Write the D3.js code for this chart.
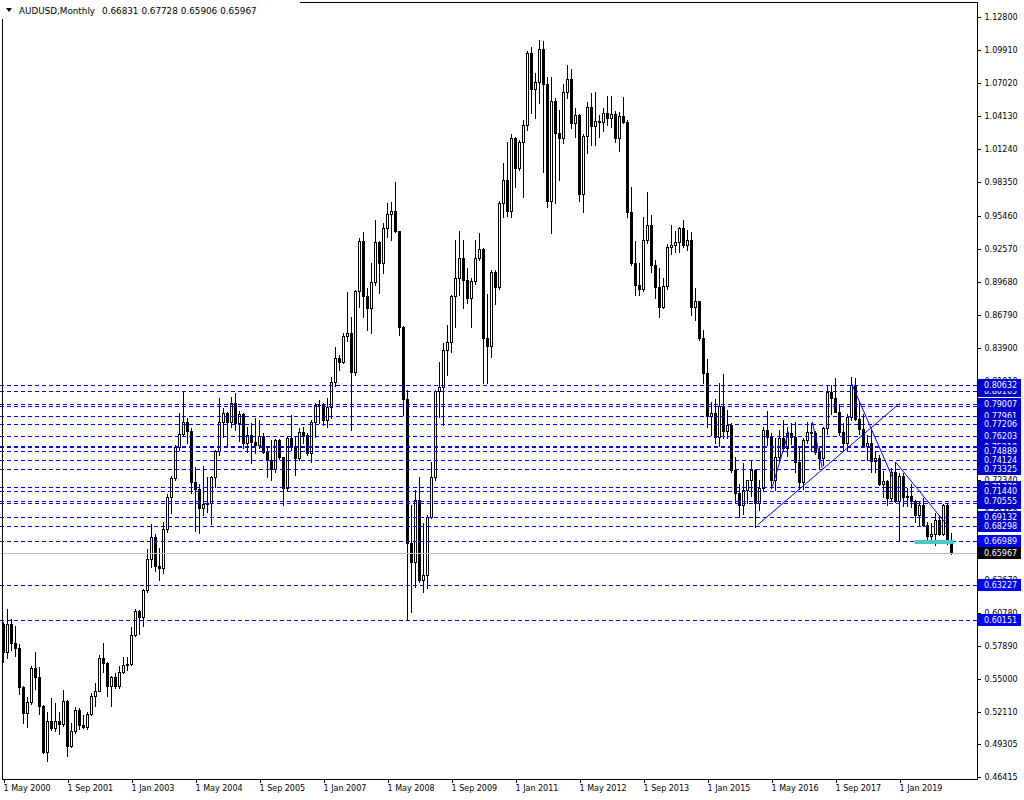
<!DOCTYPE html>
<html><head><meta charset="utf-8">
<script src="https://cdn.jsdelivr.net/npm/d3@7"></script>
<style>
body{margin:0;background:#fff;}
svg{display:block;}
text{font-family:"DejaVu Sans",Verdana,sans-serif;font-size:8px;}
</style></head><body>
<svg id="c" width="1024" height="800"></svg>
<script>
// ---------------- DATA ----------------
const firstMonth = "2000-05-01";
const lastMonth = "2020-02-01";
const openP = [0.5980,0.5735,0.5980,0.5810,0.5771,0.5430,0.5203,0.5294,0.5596,0.5512,0.5264,0.4857,0.5130,0.5072,0.5130,0.5107,0.5305,0.4915,0.5040,0.5226,0.5098,0.5080,0.5192,0.5349,0.5395,0.5678,0.5640,0.5439,0.5512,0.5439,0.5558,0.5617,0.5625,0.5882,0.6091,0.6042,0.6275,0.6543,0.6740,0.6485,0.6470,0.6805,0.7084,0.7250,0.7521,0.7639,0.7740,0.7666,0.7221,0.7154,0.6994,0.7023,0.7038,0.7264,0.7489,0.7740,0.7818,0.7740,0.7906,0.7731,0.7812,0.7556,0.7629,0.7570,0.7545,0.7623,0.7483,0.7410,0.7332,0.7585,0.7434,0.7163,0.7600,0.7527,0.7425,0.7658,0.7629,0.7469,0.7745,0.7891,0.7895,0.7760,0.7876,0.8089,0.8298,0.8270,0.8494,0.8520,0.8182,0.8887,0.9326,0.8846,0.8735,0.8965,0.9318,0.9134,0.9434,0.9556,0.9585,0.9411,0.8569,0.7943,0.6682,0.6522,0.7061,0.6362,0.6406,0.6915,0.7259,0.8016,0.8051,0.8371,0.8438,0.8843,0.8997,0.9172,0.8983,0.8823,0.8974,0.9172,0.9251,0.8473,0.8406,0.9050,0.8925,0.9652,0.9856,0.9585,1.0220,0.9964,1.0191,1.0337,1.0968,1.0651,1.0715,1.1000,1.0692,0.9676,1.0546,1.0270,1.0226,1.0628,1.0736,1.0357,1.0420,0.9731,1.0240,1.0491,1.0328,1.0372,1.0366,1.0439,1.0395,1.0433,1.0220,1.0418,1.0366,0.9574,0.9134,0.8939,0.8901,0.9332,0.9463,0.9114,0.8924,0.8750,0.8930,0.9268,0.9288,0.9314,0.9434,0.9288,0.9332,0.8750,0.8799,0.8473,0.8173,0.7795,0.7818,0.7614,0.7880,0.7660,0.7712,0.7323,0.7119,0.7017,0.7148,0.7236,0.7323,0.7032,0.7163,0.7672,0.7614,0.7236,0.7440,0.7600,0.7515,0.7650,0.7610,0.7396,0.7221,0.7585,0.7658,0.7643,0.7483,0.7430,0.7687,0.8007,0.7949,0.7833,0.7658,0.7556,0.7790,0.8065,0.7765,0.7680,0.7530,0.7560,0.7400,0.7430,0.7200,0.7230,0.7080,0.7310,0.7050,0.7270,0.7090,0.7100,0.7050,0.6930,0.7020,0.6840,0.6750,0.6760,0.6890,0.6765,0.7020,0.66831];
const highP = [0.5995,0.6106,0.6018,0.5960,0.5803,0.5440,0.5343,0.5611,0.5733,0.5602,0.5270,0.5206,0.5331,0.5290,0.5209,0.5401,0.5310,0.5110,0.5255,0.5241,0.5183,0.5209,0.5372,0.5465,0.5707,0.5814,0.5645,0.5520,0.5552,0.5611,0.5692,0.5692,0.5954,0.6106,0.6100,0.6280,0.6630,0.6849,0.6760,0.6639,0.6871,0.7113,0.7271,0.7541,0.7818,0.8016,0.7775,0.7690,0.7347,0.7200,0.7358,0.7264,0.7271,0.7500,0.7949,0.7862,0.7832,0.7963,0.7993,0.7840,0.7818,0.7700,0.7731,0.7774,0.7760,0.7643,0.7512,0.7585,0.7591,0.7591,0.7440,0.7614,0.7803,0.7614,0.7687,0.7696,0.7643,0.7760,0.7905,0.7934,0.7905,0.7949,0.8138,0.8400,0.8328,0.8517,0.8881,0.8662,0.8895,0.9347,0.9405,0.8910,0.9128,0.9507,0.9320,0.9478,0.9652,0.9667,0.9842,0.9415,0.8580,0.8022,0.7017,0.7148,0.7259,0.6857,0.6930,0.7396,0.8022,0.8269,0.8435,0.8590,0.8852,0.9332,0.9411,0.9332,0.9085,0.9000,0.9332,0.9396,0.9265,0.8860,0.9070,0.9070,0.9670,1.0002,1.0191,1.0258,1.0229,1.0205,1.0380,1.0986,1.1021,1.0788,1.1079,1.1070,1.0759,1.0759,1.0570,1.0468,1.0695,1.0861,1.0823,1.0482,1.0430,1.0258,1.0540,1.0619,1.0625,1.0424,1.0482,1.0593,1.0593,1.0462,1.0453,1.0578,1.0380,0.9792,0.9323,0.9128,0.9536,0.9754,0.9550,0.9157,0.9085,0.8997,0.9294,0.9463,0.9411,0.9449,0.9507,0.9419,0.9405,0.8910,0.8800,0.8546,0.8296,0.7913,0.7939,0.8080,0.8163,0.7850,0.7730,0.7439,0.7200,0.7380,0.7240,0.7410,0.7330,0.7236,0.7700,0.7835,0.7650,0.7600,0.7672,0.7760,0.7700,0.7730,0.7740,0.7525,0.7600,0.7745,0.7731,0.7660,0.7515,0.7700,0.8066,0.8066,0.8125,0.7900,0.7730,0.7810,0.8135,0.8130,0.7917,0.7810,0.7630,0.7680,0.7480,0.7450,0.7315,0.7240,0.7340,0.7395,0.7295,0.7295,0.7170,0.7205,0.7065,0.7050,0.7080,0.6872,0.6860,0.6945,0.6930,0.7030,0.7030,0.67728];
const lowP = [0.5649,0.5683,0.5751,0.5700,0.5364,0.5116,0.5081,0.5280,0.5413,0.5192,0.4848,0.4784,0.5052,0.5046,0.5017,0.5090,0.4827,0.4900,0.5028,0.5058,0.5066,0.5060,0.5180,0.5264,0.5390,0.5561,0.5349,0.5260,0.5416,0.5420,0.5550,0.5576,0.5620,0.5870,0.5890,0.5960,0.6260,0.6480,0.6443,0.6362,0.6420,0.6780,0.6945,0.7240,0.7498,0.7620,0.7560,0.7125,0.6793,0.6775,0.6930,0.6958,0.6851,0.7177,0.7454,0.7610,0.7526,0.7700,0.7670,0.7580,0.7512,0.7483,0.7380,0.7469,0.7512,0.7469,0.7265,0.7236,0.7308,0.7416,0.7017,0.7148,0.7500,0.7279,0.7410,0.7560,0.7454,0.7396,0.7614,0.7731,0.7716,0.7701,0.7780,0.8060,0.8200,0.8261,0.8450,0.7672,0.8153,0.8750,0.8662,0.8546,0.8517,0.8940,0.8866,0.9041,0.9361,0.9332,0.9400,0.8502,0.7803,0.6013,0.6086,0.6304,0.6347,0.6260,0.6289,0.6900,0.7236,0.7789,0.7716,0.8153,0.8350,0.8575,0.8852,0.8735,0.8779,0.8575,0.8950,0.9160,0.8080,0.8080,0.8313,0.8770,0.8900,0.9536,0.9542,0.9536,0.9798,0.9944,0.9711,1.0290,1.0439,1.0395,1.0526,0.9929,0.9623,0.9390,0.9652,0.9856,1.0180,1.0570,1.0308,1.0229,0.9676,0.9580,1.0095,1.0162,1.0162,1.0235,1.0287,1.0337,1.0322,1.0185,1.0112,1.0350,0.9530,0.9114,0.8852,0.8852,0.8890,0.9303,0.9055,0.8822,0.8662,0.8735,0.8900,0.9210,0.9230,0.9230,0.9275,0.9245,0.8677,0.8633,0.8460,0.8086,0.7700,0.7626,0.7561,0.7533,0.7600,0.7600,0.7308,0.7046,0.6915,0.6940,0.7032,0.7100,0.6828,0.6974,0.7148,0.7540,0.7163,0.7148,0.7400,0.7490,0.7445,0.7550,0.7310,0.7160,0.7160,0.7560,0.7490,0.7460,0.7330,0.7370,0.7640,0.7810,0.7830,0.7625,0.7500,0.7500,0.7760,0.7760,0.7640,0.7520,0.7410,0.7310,0.7310,0.7190,0.7085,0.7020,0.7060,0.7040,0.6715,0.7005,0.7005,0.7000,0.6865,0.6830,0.6830,0.6682,0.6690,0.6670,0.6755,0.6755,0.6680,0.65906];
const closeP = [0.5735,0.5980,0.5810,0.5771,0.5430,0.5203,0.5294,0.5596,0.5512,0.5264,0.4857,0.5130,0.5072,0.5130,0.5107,0.5305,0.4915,0.5040,0.5226,0.5098,0.5080,0.5192,0.5349,0.5395,0.5678,0.5640,0.5439,0.5512,0.5439,0.5558,0.5617,0.5625,0.5882,0.6091,0.6042,0.6275,0.6543,0.6740,0.6485,0.6470,0.6805,0.7084,0.7250,0.7521,0.7639,0.7740,0.7666,0.7221,0.7154,0.6994,0.7023,0.7038,0.7264,0.7489,0.7740,0.7818,0.7740,0.7906,0.7731,0.7812,0.7556,0.7629,0.7570,0.7545,0.7623,0.7483,0.7410,0.7332,0.7585,0.7434,0.7163,0.7600,0.7527,0.7425,0.7658,0.7629,0.7469,0.7745,0.7891,0.7895,0.7760,0.7876,0.8089,0.8298,0.8270,0.8494,0.8520,0.8182,0.8887,0.9326,0.8846,0.8735,0.8965,0.9318,0.9134,0.9434,0.9556,0.9585,0.9411,0.8569,0.7943,0.6682,0.6522,0.7061,0.6362,0.6406,0.6915,0.7259,0.8016,0.8051,0.8371,0.8438,0.8843,0.8997,0.9172,0.8983,0.8823,0.8974,0.9172,0.9251,0.8473,0.8406,0.9050,0.8925,0.9652,0.9856,0.9585,1.0220,0.9964,1.0191,1.0337,1.0968,1.0651,1.0715,1.1000,1.0692,0.9676,1.0546,1.0270,1.0226,1.0628,1.0736,1.0357,1.0420,0.9731,1.0240,1.0491,1.0328,1.0372,1.0366,1.0439,1.0395,1.0433,1.0220,1.0418,1.0366,0.9574,0.9134,0.8939,0.8901,0.9332,0.9463,0.9114,0.8924,0.8750,0.8930,0.9268,0.9288,0.9314,0.9434,0.9288,0.9332,0.8750,0.8799,0.8473,0.8173,0.7795,0.7818,0.7614,0.7880,0.7660,0.7712,0.7323,0.7119,0.7017,0.7148,0.7236,0.7323,0.7032,0.7163,0.7672,0.7614,0.7236,0.7440,0.7600,0.7515,0.7650,0.7610,0.7396,0.7221,0.7585,0.7658,0.7643,0.7483,0.7430,0.7687,0.8007,0.7949,0.7833,0.7658,0.7556,0.7790,0.8065,0.7765,0.7680,0.7530,0.7560,0.7400,0.7430,0.7200,0.7230,0.7080,0.7310,0.7050,0.7270,0.7090,0.7100,0.7050,0.6930,0.7020,0.6840,0.6750,0.6760,0.6890,0.6765,0.7020,0.6683,0.65967];

const yTicks = [1.12800,1.09910,1.07020,1.04130,1.01240,0.98350,0.95460,0.92570,0.89680,0.86790,0.83900,0.81010,0.78120,0.75230,0.72340,0.69450,0.66560,0.63670,0.60780,0.57890,0.55000,0.52110,0.49305,0.46415];
const xTickDates = ["2000-05-01","2001-09-01","2003-01-01","2004-05-01","2005-09-01","2007-01-01","2008-05-01","2009-09-01","2011-01-01","2012-05-01","2013-09-01","2015-01-01","2016-05-01","2017-09-01","2019-01-01"];

// horizontal levels, in drawing order
const levelValues = [0.80105,0.80632,0.78850,0.79007,0.77961,0.77206,0.75320,0.75210,0.76203,0.74889,0.74124,0.73325,0.71770,0.71440,0.70390,0.70555,0.69132,0.68298,0.66989,0.63227,0.60151];
const levelStrong = [0,0,0,0,0,0,0,0,0,0,0,0,0,0,0,0,0,0,1,1,1];
const lastPrice = 0.65967;
const titleSymbol = "AUDUSD,Monthly";
const titleOHLC = [0.66831, 0.67728, 0.65906, 0.65967];

// trend lines: [barIndexStart, priceStart, barIndexEnd, priceEnd]
const trendLines = [
  [188.5,0.6843,224,0.7904],
  [212,0.8080,222.3,0.7253],
  [223,0.7393,236.3,0.6825],
  [192.2,0.7177,196.3,0.7658],
  [202.2,0.7745,204.7,0.7338]
];
// cyan rectangle: [barStart, barEnd, priceTop, priceBottom]
const zoneRect = [228,238,0.6712,0.6677];

// ---------------- CHART ----------------
const svg = d3.select("#c");
const parse = d3.timeParse("%Y-%m-%d");
const months = d3.timeMonth.range(parse(firstMonth), d3.timeMonth.offset(parse(lastMonth),1));
const n = months.length;
const x = d3.scaleLinear().domain([0, n-1]).range([3, 3 + 4*(n-1)]);
const y = d3.scaleLinear().domain([0.46415, 1.128]).range([777, 17]);
const R = v => Math.round(v);

svg.append("rect").attr("width",1024).attr("height",800).attr("fill","#fff");

// candles
const cg = svg.append("g").attr("shape-rendering","crispEdges");
const idx = d3.range(n);
cg.selectAll("line.w").data(idx).join("line")
  .attr("x1", i => R(x(i))+0.5).attr("x2", i => R(x(i))+0.5)
  .attr("y1", i => R(y(highP[i]))).attr("y2", i => R(y(lowP[i]))+1)
  .attr("stroke","#000");
idx.forEach(i => {
  const cx = R(x(i));
  const top = R(y(Math.max(openP[i],closeP[i])));
  const bot = R(y(Math.min(openP[i],closeP[i])));
  const bull = closeP[i] >= openP[i];
  if (bot - top < 1) {
    cg.append("line").attr("x1",cx-1).attr("x2",cx+2).attr("y1",top+0.5).attr("y2",top+0.5).attr("stroke","#000");
  } else {
    cg.append("rect").attr("x",cx-0.5).attr("y",top+0.5).attr("width",2).attr("height",bot-top)
      .attr("fill", bull ? "#fff" : "#000").attr("stroke","#000");
  }
});

// horizontal dashed levels
const lg = svg.append("g").attr("shape-rendering","crispEdges");
levelValues.forEach((v,k) => {
  lg.append("line").attr("x1",0).attr("x2",977).attr("y1",R(y(v))+0.5).attr("y2",R(y(v))+0.5)
    .attr("stroke","#0000ff").attr("stroke-dasharray","4,3");
});
// current price line
lg.append("line").attr("x1",0).attr("x2",977).attr("y1",R(y(lastPrice))+0.5).attr("y2",R(y(lastPrice))+0.5).attr("stroke","#c0c0c0");

// trend lines
trendLines.forEach(t => {
  svg.append("line").attr("x1",x(t[0])+0.5).attr("y1",y(t[1])).attr("x2",x(t[2])+0.5).attr("y2",y(t[3]))
    .attr("stroke","#0000ff").attr("stroke-width",1);
});
// cyan zone
svg.append("rect").attr("x",x(zoneRect[0])-0.5).attr("width",x(zoneRect[1])-x(zoneRect[0]))
  .attr("y",y(zoneRect[2])).attr("height",y(zoneRect[3])-y(zoneRect[2])).attr("fill","#48c8c8");

// frame
svg.append("rect").attr("x",2.5).attr("y",2.5).attr("width",975).attr("height",777)
  .attr("fill","none").attr("stroke","#000").attr("shape-rendering","crispEdges");

// right axis
const ya = svg.append("g").attr("transform","translate(977.5,0)")
  .call(d3.axisRight(y).tickValues(yTicks).tickSize(3).tickPadding(4).tickFormat(d => d.toFixed(5)));
ya.select(".domain").remove();
ya.selectAll("text").attr("fill","#000").style("font-family","DejaVu Sans").style("font-size","8px");
ya.selectAll("line").attr("shape-rendering","crispEdges");

// bottom axis
const fmt = d3.timeFormat("%-d %b %Y");
const tickIdx = xTickDates.map(s => d3.timeMonth.count(parse(firstMonth), parse(s)));
const xa = svg.append("g").attr("transform","translate(0.5,779.5)")
  .call(d3.axisBottom(x).tickValues(tickIdx).tickSize(3).tickPadding(3).tickFormat(i => fmt(months[i])));
xa.select(".domain").remove();
xa.selectAll("text").attr("text-anchor","start").attr("dx","-0.5").attr("fill","#000").style("font-family","DejaVu Sans").style("font-size","8px");
xa.selectAll("line").attr("shape-rendering","crispEdges");

// level labels
const lb = svg.append("g");
levelValues.forEach((v,k) => {
  const yy = R(y(v));
  lb.append("rect").attr("x",978).attr("y",yy-6).attr("width",43).attr("height",12)
    .attr("fill", levelStrong[k] ? "#0000ff" : "#0000cd");
  lb.append("text").attr("x",984).attr("y",yy+3).attr("fill","#fff").text(v.toFixed(5));
});
{
  const yy = R(y(lastPrice));
  lb.append("rect").attr("x",978).attr("y",yy-6).attr("width",43).attr("height",12).attr("fill","#000");
  lb.append("text").attr("x",984).attr("y",yy+3).attr("fill","#fff").text(lastPrice.toFixed(5));
}

// title
svg.append("rect").attr("x",0).attr("y",0).attr("width",300).attr("height",19).attr("fill","#fff");
svg.append("path").attr("d","M6,8 L12,8 L9,12 Z").attr("fill","#000");
const tt = svg.append("text").attr("x",19).attr("y",14).attr("fill","#000").style("font-size","8.8px");
tt.append("tspan").text(titleSymbol);
titleOHLC.forEach((v,k) => tt.append("tspan").attr("dx", k === 0 ? 7 : 3).text(v.toFixed(5)));
</script>
</body></html>
